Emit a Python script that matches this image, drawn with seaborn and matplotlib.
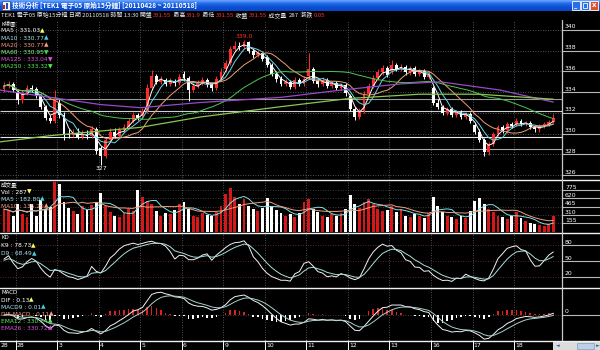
import numpy as np
import pandas as pd
import matplotlib
matplotlib.use("Agg")
import matplotlib.pyplot as plt
import seaborn as sns
from matplotlib.patches import Rectangle
from matplotlib.colors import LinearSegmentedColormap

sns.set_theme(style="dark")
plt.rcParams['font.family'] = ['Noto Sans CJK TC', 'DejaVu Sans']
plt.rcParams['axes.unicode_minus'] = False

# ---------------- data ----------------
day_labels = ["28", "28", "3", "4", "5", "6", "9", "10", "11", "12", "13", "16", "17", "18"]
first_day_bars = 3
bars_per_day = 9

opens = [334.3, 334.6, 334.8,
         334.0, 333.2, 333.9, 334.4, 334.3, 333.6, 332.6, 331.5, 331.2,
         333.0, 331.8, 330.0, 329.9, 330.1, 329.7, 330.0, 329.8, 330.4,
         328.6, 327.8, 329.4, 330.2, 329.8, 330.3, 330.6, 331.2, 331.8,
         331.7, 332.2, 334.4, 335.6, 335.0, 335.2, 334.8, 335.1, 334.9,
         335.8, 335.4, 334.2, 334.6, 334.9, 335.2, 334.8, 334.4, 335.3,
         336.2, 336.8, 338.2, 338.5, 338.4, 338.8, 338.0, 337.6, 337.8,
         337.4, 336.6, 335.8, 335.3, 334.8, 335.0, 334.5, 335.2, 334.8,
         335.6, 336.2, 335.1, 334.8, 335.2, 334.6, 334.9, 334.4, 334.7,
         333.6, 332.4, 331.6, 332.2, 333.8, 334.6, 335.4, 335.9, 336.3,
         336.0, 336.6, 336.2, 336.4, 335.9, 336.3, 335.8, 336.0, 335.5,
         334.4, 333.0, 332.6, 332.0, 332.4, 331.8, 332.1, 331.6, 331.9,
         330.8, 330.2, 329.4, 328.2, 329.0, 330.0, 330.6, 330.3, 330.9,
         330.9, 331.2, 330.9, 331.0, 330.6, 330.4, 330.7, 330.9, 331.1]
closes = [334.6, 334.8, 334.2,
          333.2, 333.9, 334.4, 334.3, 333.6, 332.6, 331.5, 331.2, 333.2,
          331.8, 330.0, 329.9, 330.1, 329.7, 330.0, 329.8, 330.4, 328.3,
          327.8, 329.4, 330.2, 329.8, 330.3, 330.6, 331.2, 331.8, 331.5,
          332.2, 334.4, 335.6, 335.0, 335.2, 334.8, 335.1, 334.9, 335.5,
          335.4, 334.2, 334.6, 334.9, 335.2, 334.8, 334.4, 335.3, 335.9,
          336.8, 338.2, 338.5, 338.4, 338.8, 338.0, 337.6, 337.8, 337.2,
          336.6, 335.8, 335.3, 334.8, 335.0, 334.5, 335.2, 334.8, 335.3,
          336.2, 335.1, 334.8, 335.2, 334.6, 334.9, 334.4, 334.7, 333.9,
          332.4, 331.6, 332.2, 333.8, 334.6, 335.4, 335.9, 336.3, 335.7,
          336.6, 336.2, 336.4, 335.9, 336.3, 335.8, 336.0, 335.5, 335.7,
          333.0, 332.6, 332.0, 332.4, 331.8, 332.1, 331.6, 331.9, 331.2,
          330.2, 329.4, 328.2, 329.0, 330.0, 330.6, 330.3, 330.9, 330.7,
          331.2, 330.9, 331.0, 330.6, 330.4, 330.7, 330.9, 331.1, 331.55]
highs = [335.0, 335.1, 335.0,
         334.3, 334.2, 334.7, 334.7, 334.5, 333.8, 332.8, 331.8, 334.2,
         333.3, 332.1, 330.4, 330.4, 330.5, 330.3, 330.3, 330.7, 330.6,
         328.8, 329.6, 330.5, 330.5, 330.6, 330.9, 331.5, 332.1, 332.0,
         332.5, 334.8, 336.1, 335.8, 335.6, 335.4, 335.4, 335.3, 335.8,
         336.0, 335.6, 334.9, 335.2, 335.5, 335.4, 335.0, 335.6, 336.3,
         337.1, 338.5, 338.9, 338.8, 339.0, 338.9, 338.2, 338.1, 337.9,
         337.6, 336.8, 336.0, 335.6, 335.3, 335.2, 335.5, 335.4, 335.6,
         337.8, 336.4, 335.3, 335.5, 335.4, 335.1, 335.1, 334.9, 334.9,
         333.8, 332.6, 332.5, 334.1, 334.9, 335.7, 336.2, 336.6, 336.5,
         337.1, 336.8, 336.7, 336.6, 336.5, 336.5, 336.2, 336.2, 336.0,
         334.6, 333.3, 332.8, 332.6, 332.6, 332.3, 332.3, 332.1, 332.1,
         331.0, 330.4, 329.6, 329.2, 330.2, 330.8, 330.8, 331.1, 331.1,
         331.5, 331.4, 331.2, 331.2, 330.8, 330.9, 331.1, 331.3, 331.9]
lows = [334.0, 334.4, 334.0,
        332.9, 333.0, 333.7, 334.0, 333.4, 332.4, 331.3, 331.0, 331.0,
        331.5, 329.4, 329.6, 329.7, 329.5, 329.5, 329.5, 329.6, 328.0,
        327.0, 327.6, 329.2, 329.6, 329.6, 330.1, 330.4, 331.0, 331.3,
        331.4, 332.0, 334.2, 334.8, 334.8, 334.6, 334.6, 334.6, 334.7,
        335.1, 333.1, 334.0, 334.4, 334.7, 334.5, 334.1, 334.2, 335.1,
        335.9, 336.6, 338.0, 338.1, 338.2, 337.8, 337.3, 337.4, 337.0,
        336.4, 335.6, 335.0, 334.6, 334.6, 334.3, 334.3, 334.6, 334.6,
        335.4, 334.9, 334.5, 334.6, 334.4, 334.4, 334.2, 334.2, 333.6,
        332.2, 331.3, 331.4, 332.0, 333.6, 334.4, 335.2, 335.7, 335.5,
        335.8, 336.0, 336.0, 335.7, 335.7, 335.6, 335.6, 335.3, 335.3,
        332.8, 332.4, 331.8, 331.8, 331.6, 331.6, 331.4, 331.4, 331.0,
        330.0, 329.2, 327.8, 327.9, 328.8, 329.8, 330.1, 330.1, 330.5,
        330.7, 330.7, 330.7, 330.4, 330.2, 330.2, 330.5, 330.7, 331.0]
volumes = [420, 380, 300,
           520, 330, 280, 520, 300, 590, 420, 460, 920,
           880, 560, 450, 380, 330, 480, 400, 500, 560,
           720, 480, 360, 300, 280, 340, 420, 380, 780,
           640, 580, 520, 380, 300, 350, 320, 400, 520,
           560, 420, 300, 280, 340, 310, 290, 360, 480,
           700, 820, 640, 520, 600, 480, 420, 380, 450,
           620, 480, 400, 350, 300, 320, 280, 340, 560,
           600, 420, 360, 300, 280, 320, 300, 340, 420,
           680, 520, 440, 560, 600, 520, 420, 380, 400,
           480, 360, 420, 300, 280, 320, 300, 260, 340,
           640, 480, 360, 300, 280, 240, 300, 260, 380,
           580, 620, 520, 420, 360, 300, 280, 240, 300,
           360, 260, 200, 160, 140, 120, 110, 150, 287]

# long moving averages (bar index, value)
ma125_idx = [-0.9, 10, 21, 29.5, 42.5, 60, 73, 86, 94.5, 107.5, 119]
ma125_val = [334.2, 333.5, 332.8, 332.5, 333.0, 333.5, 334.2, 334.8, 335.0, 334.2, 333.04]
ma250_idx = [-0.9, 10, 21, 29.5, 42.5, 60, 75, 90, 103, 119]
ma250_val = [329.2, 329.8, 330.25, 330.6, 331.6, 332.6, 333.4, 333.8, 333.8, 333.32]
ref_levels = [333.3, 332.2, 329.7, 328.5]

price_ticks = [340, 338, 336, 334, 332, 330, 328, 326]
vol_ticks = [775, 620, 465, 310, 155]
kd_ticks = [80, 50, 20]
macd_ticks = [0]

main_legend = [("MA5 : 331.03", "▲"), ("MA10 : 330.77", "▲"), ("MA20 : 330.77", "▲"),
               ("MA60 : 330.95", "▼"), ("MA125 : 333.04", "▼"), ("MA250 : 333.32", "▼")]
vol_legend = [("Vol : 287", "▼"), ("MA5 : 182.80", "▲"), ("MA10 : 135.20", "▲")]
kd_legend = [("K9 : 78.73", "▲"), ("D9 : 68.49", "▲")]
macd_legend = [("DIF : 0.13", "▲"), ("MACD9 : 0.01", "▲"), ("DIF-MACD : 0.11", "▲"),
               ("EMA12 : 330.84", "▲"), ("EMA26 : 330.72", "▲")]
title_text = "技術分析 [TEK1 電子05 原始15分鐘] [20110428 ~ 20110518]"
info_pieces = [("TEK1 電子05 原始15分鐘 日期 20110518 時間 13:30 開盤 ", "w"), ("331.55", "r"),
               (" 最高 ", "w"), ("331.9", "r"), (" 最低 ", "w"), ("331.55", "r"),
               (" 收盤 ", "w"), ("331.55", "r"), (" 成交量  ", "w"), ("287", "w"),
               (" 漲跌 ", "w"), ("0.05", "r")]

# ---------------- derived indicators ----------------
n = len(closes)
idx = np.arange(n)
o = np.array(opens); c = np.array(closes); h = np.array(highs); l = np.array(lows)
v = np.array(volumes, dtype=float)
cs = pd.Series(c)
ma_short = [cs.rolling(w, min_periods=1).mean().values for w in (3, 5, 10, 30)]
vs = pd.Series(v)
vma5 = vs.rolling(5, min_periods=1).mean().values
vma10 = vs.rolling(10, min_periods=1).mean().values

kn = 5
K = np.zeros(n); D = np.zeros(n)
kp, dp = 50.0, 50.0
for i in range(n):
    lo = l[max(0, i - kn + 1):i + 1].min(); hi = h[max(0, i - kn + 1):i + 1].max()
    rsv = 50.0 if hi == lo else (c[i] - lo) / (hi - lo) * 100
    kp = kp * 2 / 3 + rsv / 3
    dp = dp * 2 / 3 + kp / 3
    K[i] = kp; D[i] = dp
ema_f = cs.ewm(span=6, adjust=False).mean()
ema_s = cs.ewm(span=13, adjust=False).mean()
dif = (ema_f - ema_s).values
dea = pd.Series(dif).ewm(span=5, adjust=False).mean().values
hist = dif - dea

# ---------------- layout ----------------
W, H = 600, 350
fig = plt.figure(figsize=(6, 3.5), dpi=100, facecolor="black")


def frac_rect(y0, y1, x0=0, x1=W):
    return [x0 / W, 1 - y1 / H, (x1 - x0) / W, (y1 - y0) / H]


BAR_PX = 41.55 / bars_per_day


def k_of_px(px):
    return first_day_bars - 0.5 + (px - 15.5) / BAR_PX


XL, XR, XCOL = k_of_px(0), k_of_px(W), k_of_px(562)
XLAB = k_of_px(565)
boundaries = [first_day_bars - 0.5 + bars_per_day * j for j in range(len(day_labels) - 1)]

ax_main = fig.add_axes(frac_rect(20, 180))
ax_vol = fig.add_axes(frac_rect(180, 233))
ax_kd = fig.add_axes(frac_rect(233, 288))
ax_macd = fig.add_axes(frac_rect(288, 340))
ax_date = fig.add_axes(frac_rect(340, 350))
panels = [ax_main, ax_vol, ax_kd, ax_macd]
for ax in panels + [ax_date]:
    ax.set_facecolor("black")
    ax.set_xlim(XL, XR)
    ax.set_xticks([]); ax.set_yticks([])
    ax.grid(False)
    for s in ax.spines.values():
        s.set_visible(False)

ax_main.set_ylim(340 - 150 / 10.36, 340 + 10 / 10.36)
ax_vol.set_ylim(-1.3 * 18.6, 51.7 * 18.6)
ax_kd.set_ylim(-0.8 * 1.899, 54.2 * 1.899)
mtop = 1.12 * max(np.abs(dif).max(), np.abs(dea).max(), np.abs(hist).max())
ax_macd.set_ylim(-mtop * 25 / 27, mtop)

dot = (0, (1, 2))
FS = 4.4
LAT = ['DejaVu Sans', 'Noto Sans CJK TC']
for ax in panels:
    for b in boundaries:
        ax.vlines(b, *ax.get_ylim(), colors="#6a6a6a", linestyles=dot, lw=0.6, zorder=1)


def right_ticks(ax, ticks, gridcol, offset):
    for t in ticks:
        ax.hlines(t, XL, XCOL, colors=gridcol, linestyles=dot, lw=0.6, zorder=1)
        ax.hlines(t, XCOL, XR, colors="#b8b8b8", lw=0.8, zorder=1)
        ax.text(XLAB, t + offset, str(t), color="white", fontsize=FS, va="bottom", ha="left", family=LAT)


right_ticks(ax_main, price_ticks, "#707070", 0.05)
right_ticks(ax_vol, vol_ticks, "#505050", 5)
right_ticks(ax_kd, kd_ticks, "#803030", 0.5)
right_ticks(ax_macd, macd_ticks, "#505050", mtop * 0.02)

ax_main.hlines(ref_levels, XL, XCOL, colors=["#9a9a9a", "#cfcfcf", "#e8e8e8", "#a8a8a8"], lw=0.8, zorder=2)

# candles
up = c >= o
cc = np.where(up, "#ff2a2a", "#ffffff")
ax_main.vlines(idx, l, h, colors=cc, lw=0.7, zorder=3)
body = np.maximum(np.abs(c - o), 0.04)
ax_main.bar(idx, body, bottom=np.minimum(o, c), width=0.62, color=cc, linewidth=0, zorder=4)

ma_cols = ["#ffffff", "#66d8e8", "#f0a070", "#4cc84c"]
for vals, col in zip(ma_short, ma_cols):
    sns.lineplot(x=idx, y=vals, ax=ax_main, color=col, lw=0.7, zorder=5, legend=False)
sns.lineplot(x=ma125_idx, y=ma125_val, ax=ax_main, color="#9a48c8", lw=0.9, zorder=5, legend=False)
sns.lineplot(x=ma250_idx, y=ma250_val, ax=ax_main, color="#88c850", lw=0.9, zorder=5, legend=False)

hi_i = int(np.argmax(h)); lo_i = int(np.argmin(l))
ax_main.text(hi_i, h[hi_i] + 0.15, f"{h[hi_i]:.1f}", color="#ff3030", fontsize=FS, ha="center", va="bottom",
             zorder=6, family=LAT)
ax_main.text(lo_i, l[lo_i] - 0.15, f"{l[lo_i]:.0f}", color="white", fontsize=FS, ha="center", va="top",
             zorder=6, family=LAT)

# volume
vc = np.where(up, "#d81818", "#ffffff")
ax_vol.bar(idx, v, width=0.62, color=vc, linewidth=0, zorder=3)
sns.lineplot(x=idx, y=vma5, ax=ax_vol, color="#80e0e8", lw=0.7, zorder=4, legend=False)
sns.lineplot(x=idx, y=vma10, ax=ax_vol, color="#f0a080", lw=0.7, zorder=4, legend=False)

# KD
sns.lineplot(x=idx, y=K, ax=ax_kd, color="#f2f2f2", lw=0.7, zorder=4, legend=False)
sns.lineplot(x=idx, y=D, ax=ax_kd, color="#a8dede", lw=0.7, zorder=4, legend=False)

# MACD
hc = np.where(hist >= 0, "#e02020", "#ffffff")
ax_macd.bar(idx, hist, width=0.35, color=hc, linewidth=0, zorder=3)
sns.lineplot(x=idx, y=dif, ax=ax_macd, color="#f2f2f2", lw=0.7, zorder=4, legend=False)
sns.lineplot(x=idx, y=dea, ax=ax_macd, color="#a8d0d0", lw=0.7, zorder=4, legend=False)

for ax in panels:
    ax.set_xlim(XL, XR)
    ax.set_xlabel(""); ax.set_ylabel("")

# date axis
ax_date.set_ylim(0, 1)
ax_date.vlines(boundaries, 0, 1, colors="white", lw=0.7)
ax_date.text(XL + 0.1, 0.45, day_labels[0], color="white", fontsize=FS, va="center", ha="left", family=LAT)
for b, lab in zip(boundaries, day_labels[1:]):
    ax_date.text(b + 0.25, 0.45, lab, color="white", fontsize=FS, va="center", ha="left", family=LAT)


# ---------------- figure-level decorations ----------------
def fig_line(x0, y0, x1, y1, col, lw):
    fig.add_artist(plt.Line2D([x0 / W, x1 / W], [1 - y0 / H, 1 - y1 / H], color=col, lw=lw, transform=fig.transFigure))


def fig_rect(x0, y0, x1, y1, fc, ec="none", lw=0.5):
    fig.add_artist(Rectangle((x0 / W, 1 - y1 / H), (x1 - x0) / W, (y1 - y0) / H, facecolor=fc, edgecolor=ec,
                             lw=lw, transform=fig.transFigure))


for yy in (180, 233, 288, 340.5):
    fig_line(0, yy, W, yy, "#f0f0f0", 1.0)
fig_line(562, 20, 562, 340, "#c8c8c8", 0.9)

# scroll bar
fig_rect(553, 341.5, 600, 350, "#dcdcdc")
fig_rect(577, 343, 594, 348.5, "#c0cfe8", ec="#7f9db9")
fig.text(556 / W, 1 - 345.8 / H, "◄", color="#4060a0", fontsize=3.5, va="center", ha="left", family=LAT)
fig.text(595.5 / W, 1 - 345.8 / H, "►", color="#4060a0", fontsize=3.5, va="center", ha="left", family=LAT)

# title bar
ax_t = fig.add_axes(frac_rect(0, 11))
grad = np.linspace(0, 1, 30).reshape(-1, 1)
ax_t.imshow(grad, aspect="auto", extent=[0, W, 11, 0],
            cmap=LinearSegmentedColormap.from_list("xp", ["#6aa6ff", "#1f66e8", "#0a4fd4", "#0848c0"]))
ax_t.set_xlim(0, W); ax_t.set_ylim(11, 0); ax_t.axis("off")
fig_rect(1.5, 1.5, 9.5, 9.5, "#f4f4f4", ec="#204080")
fig_rect(3, 5, 5, 8.5, "#d02020")
fig_rect(5.5, 3, 7.5, 8.5, "#2050c0")
fig.text(12 / W, 1 - 5.8 / H, title_text, color="white", fontsize=4.8, va="center", ha="left", fontweight="bold")
for x0, col in ((572, "#2a6ee8"), (581, "#2a6ee8"), (590, "#e0502a")):
    fig_rect(x0, 1.2, x0 + 8, 9.5, col, ec="white", lw=0.6)
fig.text(576 / W, 1 - 6.5 / H, "_", color="white", fontsize=4.5, ha="center", va="center", fontweight="bold",
         family=LAT)
fig_rect(583, 3.5, 587, 7.5, "none", ec="white", lw=0.6)
fig.text(594 / W, 1 - 5.4 / H, "x", color="white", fontsize=5, ha="center", va="center", fontweight="bold",
         family=LAT)

renderer = fig.canvas.get_renderer()


def seq_text(x, y, pieces, size, family=None):
    for s, col in pieces:
        kw = {} if family is None else {"family": family}
        t = fig.text(x / W, 1 - y / H, s, color=col, fontsize=size, va="center", ha="left", **kw)
        x += t.get_window_extent(renderer=renderer).width
    return x


cmap_info = {"w": "#e8e8e8", "r": "#ff3030"}
seq_text(1, 15.3, [(s, cmap_info[k]) for s, k in info_pieces], 4.3)

LEG = 4.2
HEAD = 4.0
# panel legends
fig.text(1 / W, 1 - 23.6 / H, "K線圖", color="white", fontsize=HEAD, va="center")
leg_cols = [("#ffffff", "#ffff60"), ("#a8e4f0", "#40d0e0"), ("#ff9a80", "#ff9a80"),
            ("#80ff80", "#40e040"), ("#e050e0", "#e050e0"), ("#50f050", "#50f050")]
for j, ((txt, arr), (tc, ac)) in enumerate(zip(main_legend, leg_cols)):
    seq_text(1, 31 + 7.1 * j, [(txt, tc), (arr, ac)], LEG, LAT)

fig.text(1 / W, 1 - 184.6 / H, "成交量", color="white", fontsize=HEAD, va="center")
for j, ((txt, arr), (tc, ac)) in enumerate(zip(vol_legend, [("#ffffff", "#ffff60"), ("#a8e4f0", "#40d0e0"),
                                                          ("#ff9a80", "#ff9a80")])):
    seq_text(1, 192.2 + 7.0 * j, [(txt, tc), (arr, ac)], LEG, LAT)

fig.text(1 / W, 1 - 237.6 / H, "KD", color="white", fontsize=HEAD, va="center", family=LAT)
for j, ((txt, arr), (tc, ac)) in enumerate(zip(kd_legend, [("#ffffff", "#ffff60"), ("#a8e4f0", "#40d0e0")])):
    seq_text(1, 245.5 + 8.3 * j, [(txt, tc), (arr, ac)], LEG, LAT)

fig.text(1 / W, 1 - 292.6 / H, "MACD", color="white", fontsize=HEAD, va="center", family=LAT)
mcols = [("#ffffff", "#ffff60"), ("#a8e4f0", "#40d0e0"), ("#ff9a80", "#ff9a80"),
         ("#60f060", "#60f060"), ("#e050e0", "#e050e0")]
for j, ((txt, arr), (tc, ac)) in enumerate(zip(macd_legend, mcols)):
    seq_text(1, 300.2 + 7.0 * j, [(txt, tc), (arr, ac)], LEG, LAT)

fig.savefig("out.png", dpi=100, facecolor="black")
